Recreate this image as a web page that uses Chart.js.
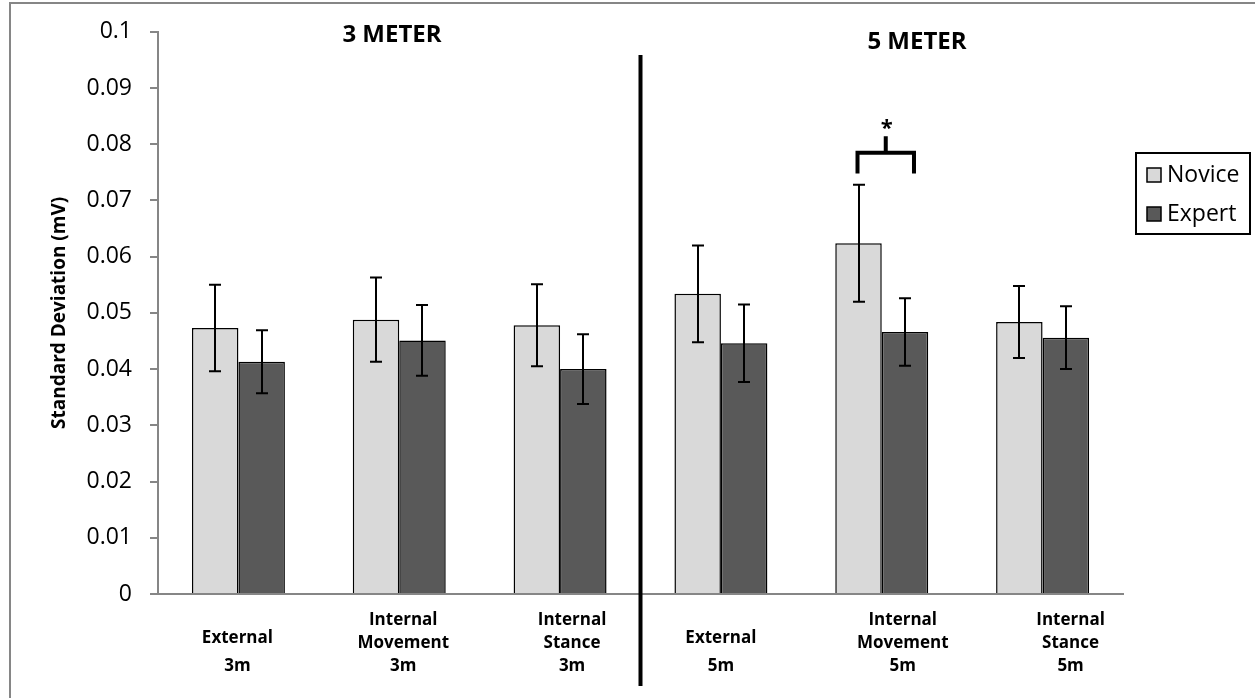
<!DOCTYPE html>
<html>
<head>
<meta charset="utf-8">
<script src="https://cdn.jsdelivr.net/npm/chart.js@4.4.0/dist/chart.umd.min.js"></script>
<style>
  html, body { margin: 0; padding: 0; background: #ffffff; }
  #wrap { width: 1255px; height: 698px; position: relative; }
</style>
</head>
<body>
<div id="wrap"><canvas id="c" width="1255" height="698"></canvas></div>
<script>
// Conditions (multi-line axis labels)
const categories = [
  ["External", "3m"],
  ["Internal", "Movement", "3m"],
  ["Internal", "Stance", "3m"],
  ["External", "5m"],
  ["Internal", "Movement", "5m"],
  ["Internal", "Stance", "5m"]
];
const seriesNames = ["Novice", "Expert"];

// Mean standard deviation (mV) and error for each group
const noviceMeans  = [0.0473, 0.0488, 0.0478, 0.0534, 0.0624, 0.0484];
const noviceErrors = [0.0077, 0.0075, 0.0073, 0.0086, 0.0104, 0.0064];
const expertMeans  = [0.0413, 0.0451, 0.0400, 0.0446, 0.0466, 0.0456];
const expertErrors = [0.0056, 0.0063, 0.0062, 0.0069, 0.0060, 0.0056];

const yTickLabels = ["0", "0.01", "0.02", "0.03", "0.04", "0.05", "0.06", "0.07", "0.08", "0.09", "0.1"];
const sectionTitles = ["3 METER", "5 METER"];
const yAxisTitle = "Standard Deviation (mV)";

// Significance marker between Novice and Expert, Internal Movement 5m
const sigIndex = 4;
const sigLevels = { legBottom: 0.0748, bar: 0.0785, stemTop: 0.0814, star: 0.0833 };

const FONT = "'Open Sans', 'Liberation Sans', sans-serif";
const AXIS_GREY = "#868686";

// horizontal nudge of each wrapped category label from its tick
const labelNudge = [-1, 4, 12, 0, 21, 28];

const errorBars = {
  id: "errorBars",
  afterDatasetsDraw(chart) {
    const { ctx } = chart;
    const y = chart.scales.y;
    const errs = [noviceErrors, expertErrors];
    ctx.save();
    ctx.strokeStyle = "#000";
    ctx.lineWidth = 2;
    chart.data.datasets.forEach((ds, di) => {
      const meta = chart.getDatasetMeta(di);
      meta.data.forEach((bar, i) => {
        const v = ds.data[i], e = errs[di][i];
        const x = Math.round(bar.x);
        const top = y.getPixelForValue(v + e);
        const bot = y.getPixelForValue(v - e);
        ctx.beginPath();
        ctx.moveTo(x, top); ctx.lineTo(x, bot);
        ctx.moveTo(x - 6, top); ctx.lineTo(x + 6, top);
        ctx.moveTo(x - 6, bot); ctx.lineTo(x + 6, bot);
        ctx.stroke();
      });
    });
    ctx.restore();
  }
};

const decorations = {
  id: "decorations",
  afterDraw(chart) {
    const { ctx } = chart;
    const xs = chart.scales.x, ys = chart.scales.y;
    ctx.save();

    // outer frame (left and top edges)
    ctx.strokeStyle = AXIS_GREY;
    ctx.lineWidth = 2;
    ctx.beginPath();
    ctx.moveTo(10, 698); ctx.lineTo(10, 3); ctx.lineTo(1255, 3);
    ctx.stroke();

    // category labels, bottom-aligned under each group
    ctx.fillStyle = "#000";
    ctx.font = "bold 17px " + FONT;
    ctx.textAlign = "center";
    ctx.textBaseline = "middle";
    chart.data.labels.forEach((lines, i) => {
      const cx = xs.getPixelForValue(i) + labelNudge[i];
      const rows = lines.length === 3 ? [620, 643, 666] : [638, 666];
      lines.forEach((t, k) => ctx.fillText(t, cx, rows[k]));
    });

    // divider between the two distances
    const divX = (xs.getPixelForValue(2) + xs.getPixelForValue(3)) / 2;
    ctx.strokeStyle = "#000";
    ctx.lineWidth = 4;
    ctx.beginPath();
    ctx.moveTo(divX, 55); ctx.lineTo(divX, 686);
    ctx.stroke();

    // section headings
    ctx.font = "bold 24px " + FONT;
    ctx.fillText(sectionTitles[0], 392, 35);
    ctx.fillText(sectionTitles[1], 917, 42);

    // significance bracket
    const nBar = chart.getDatasetMeta(0).data[sigIndex];
    const eBar = chart.getDatasetMeta(1).data[sigIndex];
    const lx = nBar.x - 1, rx = eBar.x + 9, mx = (lx + rx) / 2;
    const yLeg = ys.getPixelForValue(sigLevels.legBottom);
    const yBar = ys.getPixelForValue(sigLevels.bar);
    const yStem = ys.getPixelForValue(sigLevels.stemTop);
    ctx.lineWidth = 4;
    ctx.lineCap = "butt";
    ctx.beginPath();
    ctx.moveTo(lx, yLeg); ctx.lineTo(lx, yBar); ctx.lineTo(rx, yBar); ctx.lineTo(rx, yLeg);
    ctx.moveTo(mx, yBar); ctx.lineTo(mx, yStem);
    ctx.stroke();
    ctx.font = "bold 22px " + FONT;
    ctx.fillText("*", mx + 1, ys.getPixelForValue(sigLevels.star) + 3);

    // legend
    const lgX = 1136, lgY = 153, lgW = 114, lgH = 81;
    ctx.lineWidth = 2;
    ctx.strokeStyle = "#000";
    ctx.strokeRect(lgX, lgY, lgW, lgH);
    ctx.font = "23px " + FONT;
    ctx.textAlign = "left";
    chart.data.datasets.forEach((ds, i) => {
      const cy = 175 + i * 39;
      ctx.fillStyle = ds.backgroundColor;
      ctx.fillRect(1147, cy - 7, 14, 14);
      ctx.lineWidth = 1.5;
      ctx.strokeRect(1147, cy - 7, 14, 14);
      ctx.fillStyle = "#000";
      ctx.fillText(ds.label, 1167, cy);
    });

    ctx.restore();
  }
};

new Chart(document.getElementById("c"), {
  type: "bar",
  data: {
    labels: categories,
    datasets: [
      { label: seriesNames[0], data: noviceMeans, backgroundColor: "#d9d9d9", borderColor: "#000", borderWidth: 1.5 },
      { label: seriesNames[1], data: expertMeans, backgroundColor: "#595959", borderColor: "#000", borderWidth: 1.5 }
    ]
  },
  options: {
    responsive: false,
    animation: false,
    devicePixelRatio: 1,
    layout: { padding: { left: 0, top: 27, right: 132, bottom: 0 } },
    datasets: { bar: { categoryPercentage: 0.578, barPercentage: 1.0 } },
    plugins: { legend: { display: false }, tooltip: { enabled: false } },
    scales: {
      x: {
        grid: { display: false },
        border: { display: true, color: AXIS_GREY, width: 2 },
        ticks: { display: false },
        afterFit(s) { s.height = 104; }
      },
      y: {
        min: 0,
        max: 0.1,
        grid: { drawOnChartArea: false, drawTicks: true, tickLength: 8, color: AXIS_GREY, lineWidth: 2 },
        border: { display: true, color: AXIS_GREY, width: 2 },
        ticks: {
          stepSize: 0.01,
          color: "#000",
          padding: 18,
          font: { family: FONT, size: 23 },
          callback: (v, i) => yTickLabels[i]
        },
        title: {
          display: true,
          text: yAxisTitle,
          color: "#000",
          font: { family: FONT, size: 19, weight: "bold" },
          padding: { top: 48, bottom: 0 }
        },
        afterFit(s) { s.width = 158; }
      }
    }
  },
  plugins: [errorBars, decorations]
});
</script>
</body>
</html>
